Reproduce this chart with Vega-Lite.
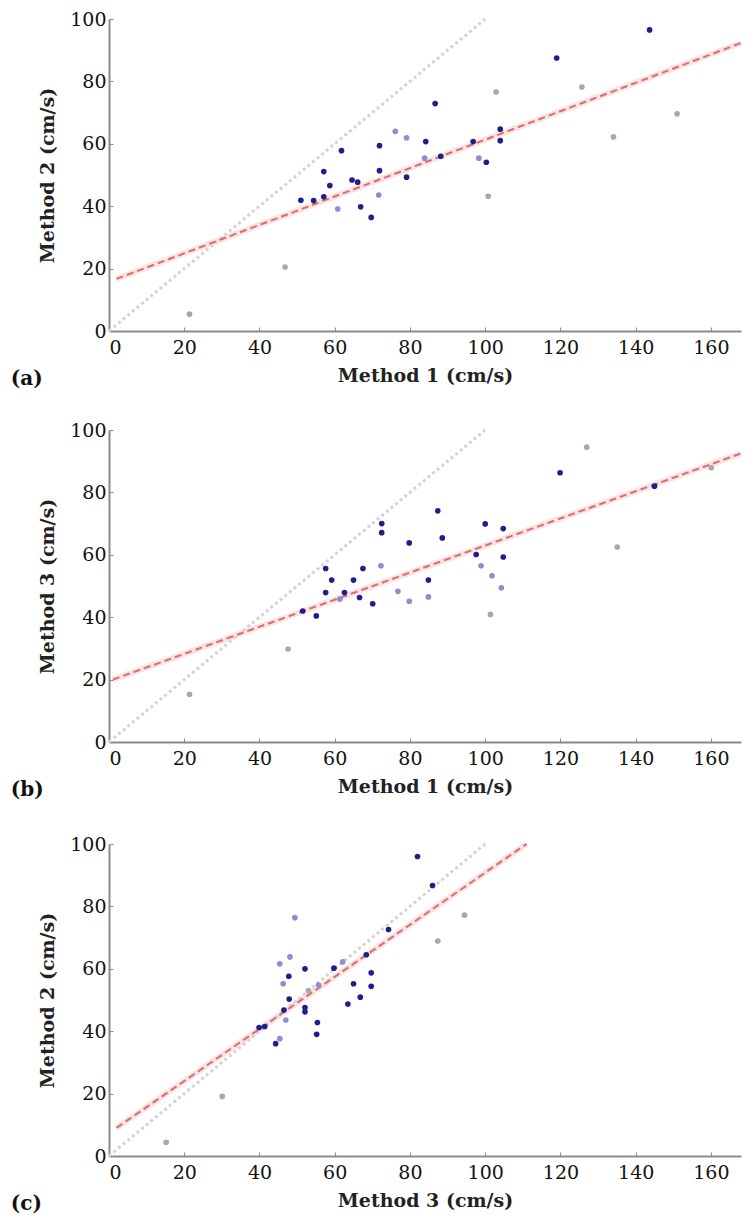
{
  "$schema": "https://vega.github.io/schema/vega-lite/v6.json",
  "background": "white",
  "padding": {"left": 10, "top": 10, "right": 0, "bottom": 5},
  "spacing": 32,
  "config": {
    "view": {"stroke": null},
    "axis": {
      "grid": false,
      "domainColor": "#8a8a8a",
      "domainWidth": 2,
      "tickColor": "#8a8a8a",
      "tickSize": -4,
      "labelFont": "DejaVu Serif",
      "labelFontSize": 19,
      "labelColor": "#111",
      "titleFont": "DejaVu Serif",
      "titleFontSize": 19,
      "titleFontWeight": "bold",
      "titleColor": "#222"
    },
    "axisX": {"labelPadding": 11, "titlePadding": 9},
    "axisY": {"labelPadding": 7, "titlePadding": 12}
  },
  "datasets": {
    "pts": [
      {"panel":"a","x":143.7,"y":96.5,"g":"dark"},
      {"panel":"a","x":119.0,"y":87.5,"g":"dark"},
      {"panel":"a","x":86.7,"y":72.9,"g":"dark"},
      {"panel":"a","x":104.0,"y":64.7,"g":"dark"},
      {"panel":"a","x":104.0,"y":61.0,"g":"dark"},
      {"panel":"a","x":96.8,"y":60.7,"g":"dark"},
      {"panel":"a","x":84.2,"y":60.7,"g":"dark"},
      {"panel":"a","x":88.2,"y":56.0,"g":"dark"},
      {"panel":"a","x":83.9,"y":55.4,"g":"light"},
      {"panel":"a","x":76.1,"y":64.0,"g":"light"},
      {"panel":"a","x":79.1,"y":61.9,"g":"light"},
      {"panel":"a","x":71.9,"y":59.4,"g":"dark"},
      {"panel":"a","x":61.8,"y":57.8,"g":"dark"},
      {"panel":"a","x":57.1,"y":51.1,"g":"dark"},
      {"panel":"a","x":71.9,"y":51.4,"g":"dark"},
      {"panel":"a","x":79.1,"y":49.3,"g":"dark"},
      {"panel":"a","x":64.6,"y":48.4,"g":"dark"},
      {"panel":"a","x":66.1,"y":47.7,"g":"dark"},
      {"panel":"a","x":58.7,"y":46.6,"g":"dark"},
      {"panel":"a","x":57.1,"y":43.0,"g":"dark"},
      {"panel":"a","x":54.4,"y":41.8,"g":"dark"},
      {"panel":"a","x":51.0,"y":41.9,"g":"dark"},
      {"panel":"a","x":71.7,"y":43.6,"g":"light"},
      {"panel":"a","x":60.8,"y":39.1,"g":"light"},
      {"panel":"a","x":66.9,"y":39.8,"g":"dark"},
      {"panel":"a","x":69.7,"y":36.4,"g":"dark"},
      {"panel":"a","x":98.3,"y":55.4,"g":"light"},
      {"panel":"a","x":100.3,"y":54.1,"g":"dark"},
      {"panel":"a","x":100.8,"y":43.2,"g":"grey"},
      {"panel":"a","x":102.9,"y":76.6,"g":"grey"},
      {"panel":"a","x":125.7,"y":78.2,"g":"grey"},
      {"panel":"a","x":134.1,"y":62.2,"g":"grey"},
      {"panel":"a","x":151.0,"y":69.6,"g":"grey"},
      {"panel":"a","x":21.4,"y":5.4,"g":"grey"},
      {"panel":"a","x":46.8,"y":20.5,"g":"grey"},

      {"panel":"b","x":87.4,"y":74.1,"g":"dark"},
      {"panel":"b","x":72.5,"y":70.0,"g":"dark"},
      {"panel":"b","x":72.5,"y":67.1,"g":"dark"},
      {"panel":"b","x":79.8,"y":63.8,"g":"dark"},
      {"panel":"b","x":88.6,"y":65.4,"g":"dark"},
      {"panel":"b","x":100.0,"y":69.9,"g":"dark"},
      {"panel":"b","x":104.8,"y":68.4,"g":"dark"},
      {"panel":"b","x":104.8,"y":59.3,"g":"dark"},
      {"panel":"b","x":97.6,"y":60.1,"g":"dark"},
      {"panel":"b","x":98.9,"y":56.5,"g":"light"},
      {"panel":"b","x":101.8,"y":53.3,"g":"light"},
      {"panel":"b","x":104.3,"y":49.4,"g":"light"},
      {"panel":"b","x":101.4,"y":40.9,"g":"grey"},
      {"panel":"b","x":84.9,"y":51.9,"g":"dark"},
      {"panel":"b","x":84.9,"y":46.5,"g":"light"},
      {"panel":"b","x":79.8,"y":45.1,"g":"light"},
      {"panel":"b","x":76.8,"y":48.3,"g":"light"},
      {"panel":"b","x":72.3,"y":56.5,"g":"light"},
      {"panel":"b","x":67.5,"y":55.6,"g":"dark"},
      {"panel":"b","x":57.6,"y":55.6,"g":"dark"},
      {"panel":"b","x":59.2,"y":51.9,"g":"dark"},
      {"panel":"b","x":65.0,"y":51.9,"g":"dark"},
      {"panel":"b","x":57.6,"y":47.9,"g":"dark"},
      {"panel":"b","x":62.6,"y":47.9,"g":"dark"},
      {"panel":"b","x":61.4,"y":45.8,"g":"light"},
      {"panel":"b","x":66.6,"y":46.3,"g":"dark"},
      {"panel":"b","x":70.1,"y":44.3,"g":"dark"},
      {"panel":"b","x":51.5,"y":42.0,"g":"dark"},
      {"panel":"b","x":55.1,"y":40.4,"g":"dark"},
      {"panel":"b","x":119.9,"y":86.3,"g":"dark"},
      {"panel":"b","x":127.0,"y":94.5,"g":"grey"},
      {"panel":"b","x":145.0,"y":82.0,"g":"dark"},
      {"panel":"b","x":160.1,"y":87.9,"g":"grey"},
      {"panel":"b","x":135.1,"y":62.5,"g":"grey"},
      {"panel":"b","x":47.6,"y":29.8,"g":"grey"},
      {"panel":"b","x":21.4,"y":15.3,"g":"grey"},

      {"panel":"c","x":82.0,"y":96.0,"g":"dark"},
      {"panel":"c","x":86.0,"y":86.7,"g":"dark"},
      {"panel":"c","x":74.3,"y":72.6,"g":"dark"},
      {"panel":"c","x":87.4,"y":68.9,"g":"grey"},
      {"panel":"c","x":94.5,"y":77.2,"g":"grey"},
      {"panel":"c","x":49.4,"y":76.4,"g":"light"},
      {"panel":"c","x":68.4,"y":64.5,"g":"dark"},
      {"panel":"c","x":62.1,"y":62.2,"g":"light"},
      {"panel":"c","x":59.8,"y":60.2,"g":"dark"},
      {"panel":"c","x":69.7,"y":58.7,"g":"dark"},
      {"panel":"c","x":69.7,"y":54.4,"g":"dark"},
      {"panel":"c","x":65.0,"y":55.2,"g":"dark"},
      {"panel":"c","x":66.8,"y":50.9,"g":"dark"},
      {"panel":"c","x":63.5,"y":48.7,"g":"dark"},
      {"panel":"c","x":52.1,"y":60.0,"g":"dark"},
      {"panel":"c","x":48.1,"y":63.8,"g":"light"},
      {"panel":"c","x":45.4,"y":61.6,"g":"light"},
      {"panel":"c","x":47.8,"y":57.6,"g":"dark"},
      {"panel":"c","x":46.3,"y":55.2,"g":"light"},
      {"panel":"c","x":55.7,"y":54.8,"g":"light"},
      {"panel":"c","x":47.9,"y":50.3,"g":"dark"},
      {"panel":"c","x":53.0,"y":53.0,"g":"grey"},
      {"panel":"c","x":52.1,"y":47.6,"g":"dark"},
      {"panel":"c","x":52.1,"y":46.2,"g":"dark"},
      {"panel":"c","x":46.5,"y":46.8,"g":"dark"},
      {"panel":"c","x":47.0,"y":43.6,"g":"light"},
      {"panel":"c","x":55.4,"y":42.8,"g":"dark"},
      {"panel":"c","x":55.2,"y":39.0,"g":"dark"},
      {"panel":"c","x":39.9,"y":41.2,"g":"dark"},
      {"panel":"c","x":41.4,"y":41.5,"g":"dark"},
      {"panel":"c","x":44.3,"y":36.0,"g":"dark"},
      {"panel":"c","x":45.4,"y":37.6,"g":"light"},
      {"panel":"c","x":30.1,"y":19.1,"g":"grey"},
      {"panel":"c","x":15.2,"y":4.4,"g":"grey"}
    ],
    "lines": [
      {"panel":"a","k":"id","x":0,"y":0},{"panel":"a","k":"id","x":100,"y":100},
      {"panel":"a","k":"fit","x":2,"y":16.7},{"panel":"a","k":"fit","x":168,"y":92.3},
      {"panel":"b","k":"id","x":0,"y":0},{"panel":"b","k":"id","x":100,"y":100},
      {"panel":"b","k":"fit","x":1,"y":20.0},{"panel":"b","k":"fit","x":168,"y":92.5},
      {"panel":"c","k":"id","x":0,"y":0},{"panel":"c","k":"id","x":100,"y":100},
      {"panel":"c","k":"fit","x":2,"y":9.0},{"panel":"c","k":"fit","x":111,"y":100}
    ]
  },
  "vconcat": [
    {
      "width": 632, "height": 312,
      "title": {"text": "(a)", "orient": "bottom", "anchor": "start", "frame": "bounds", "font": "DejaVu Serif", "fontSize": 20, "fontWeight": "bold", "color": "#111", "offset": 0, "dy": -16, "dx": -28},
      "layer": [
        {"data": {"name": "lines"}, "transform": [{"filter": "datum.panel === 'a' && datum.k === 'id'"}],
         "mark": {"type": "line", "color": "#d4d4d4", "strokeWidth": 3, "strokeDash": [3, 3]},
         "encoding": {"x": {"field": "x", "type": "quantitative", "scale": {"domain": [0, 168], "nice": false}, "axis": {"title": "Method 1 (cm/s)", "values": [0,20,40,60,80,100,120,140,160]}},
                      "y": {"field": "y", "type": "quantitative", "scale": {"domain": [0, 100], "nice": false}, "axis": {"title": "Method 2 (cm/s)", "values": [0,20,40,60,80,100]}}}},
        {"data": {"name": "lines"}, "transform": [{"filter": "datum.panel === 'a' && datum.k === 'fit'"}],
         "mark": {"type": "line", "color": "#f4c8c8", "strokeWidth": 6, "opacity": 0.5},
         "encoding": {"x": {"field": "x", "type": "quantitative"}, "y": {"field": "y", "type": "quantitative"}}},
        {"data": {"name": "lines"}, "transform": [{"filter": "datum.panel === 'a' && datum.k === 'fit'"}],
         "mark": {"type": "line", "color": "#e06a6a", "strokeWidth": 2, "strokeDash": [7, 4]},
         "encoding": {"x": {"field": "x", "type": "quantitative"}, "y": {"field": "y", "type": "quantitative"}}},
        {"data": {"name": "pts"}, "transform": [{"filter": "datum.panel === 'a'"}],
         "mark": {"type": "circle", "size": 32, "opacity": 1},
         "encoding": {"x": {"field": "x", "type": "quantitative"}, "y": {"field": "y", "type": "quantitative"},
                      "color": {"field": "g", "type": "nominal", "scale": {"domain": ["dark", "light", "grey"], "range": ["#1e1e8c", "#8c8cd8", "#a8a8a8"]}, "legend": null}}}
      ]
    },
    {
      "width": 632, "height": 312,
      "title": {"text": "(b)", "orient": "bottom", "anchor": "start", "frame": "bounds", "font": "DejaVu Serif", "fontSize": 20, "fontWeight": "bold", "color": "#111", "offset": 0, "dy": -16, "dx": -28},
      "layer": [
        {"data": {"name": "lines"}, "transform": [{"filter": "datum.panel === 'b' && datum.k === 'id'"}],
         "mark": {"type": "line", "color": "#d4d4d4", "strokeWidth": 3, "strokeDash": [3, 3]},
         "encoding": {"x": {"field": "x", "type": "quantitative", "scale": {"domain": [0, 168], "nice": false}, "axis": {"title": "Method 1 (cm/s)", "values": [0,20,40,60,80,100,120,140,160]}},
                      "y": {"field": "y", "type": "quantitative", "scale": {"domain": [0, 100], "nice": false}, "axis": {"title": "Method 3 (cm/s)", "values": [0,20,40,60,80,100]}}}},
        {"data": {"name": "lines"}, "transform": [{"filter": "datum.panel === 'b' && datum.k === 'fit'"}],
         "mark": {"type": "line", "color": "#f4c8c8", "strokeWidth": 6, "opacity": 0.5},
         "encoding": {"x": {"field": "x", "type": "quantitative"}, "y": {"field": "y", "type": "quantitative"}}},
        {"data": {"name": "lines"}, "transform": [{"filter": "datum.panel === 'b' && datum.k === 'fit'"}],
         "mark": {"type": "line", "color": "#e06a6a", "strokeWidth": 2, "strokeDash": [7, 4]},
         "encoding": {"x": {"field": "x", "type": "quantitative"}, "y": {"field": "y", "type": "quantitative"}}},
        {"data": {"name": "pts"}, "transform": [{"filter": "datum.panel === 'b'"}],
         "mark": {"type": "circle", "size": 32, "opacity": 1},
         "encoding": {"x": {"field": "x", "type": "quantitative"}, "y": {"field": "y", "type": "quantitative"},
                      "color": {"field": "g", "type": "nominal", "scale": {"domain": ["dark", "light", "grey"], "range": ["#1e1e8c", "#8c8cd8", "#a8a8a8"]}, "legend": null}}}
      ]
    },
    {
      "width": 632, "height": 312,
      "title": {"text": "(c)", "orient": "bottom", "anchor": "start", "frame": "bounds", "font": "DejaVu Serif", "fontSize": 20, "fontWeight": "bold", "color": "#111", "offset": 0, "dy": -16, "dx": -28},
      "layer": [
        {"data": {"name": "lines"}, "transform": [{"filter": "datum.panel === 'c' && datum.k === 'id'"}],
         "mark": {"type": "line", "color": "#d4d4d4", "strokeWidth": 3, "strokeDash": [3, 3]},
         "encoding": {"x": {"field": "x", "type": "quantitative", "scale": {"domain": [0, 168], "nice": false}, "axis": {"title": "Method 3 (cm/s)", "values": [0,20,40,60,80,100,120,140,160]}},
                      "y": {"field": "y", "type": "quantitative", "scale": {"domain": [0, 100], "nice": false}, "axis": {"title": "Method 2 (cm/s)", "values": [0,20,40,60,80,100]}}}},
        {"data": {"name": "lines"}, "transform": [{"filter": "datum.panel === 'c' && datum.k === 'fit'"}],
         "mark": {"type": "line", "color": "#f4c8c8", "strokeWidth": 6, "opacity": 0.5},
         "encoding": {"x": {"field": "x", "type": "quantitative"}, "y": {"field": "y", "type": "quantitative"}}},
        {"data": {"name": "lines"}, "transform": [{"filter": "datum.panel === 'c' && datum.k === 'fit'"}],
         "mark": {"type": "line", "color": "#e06a6a", "strokeWidth": 2, "strokeDash": [7, 4]},
         "encoding": {"x": {"field": "x", "type": "quantitative"}, "y": {"field": "y", "type": "quantitative"}}},
        {"data": {"name": "pts"}, "transform": [{"filter": "datum.panel === 'c'"}],
         "mark": {"type": "circle", "size": 32, "opacity": 1},
         "encoding": {"x": {"field": "x", "type": "quantitative"}, "y": {"field": "y", "type": "quantitative"},
                      "color": {"field": "g", "type": "nominal", "scale": {"domain": ["dark", "light", "grey"], "range": ["#1e1e8c", "#8c8cd8", "#a8a8a8"]}, "legend": null}}}
      ]
    }
  ]
}
